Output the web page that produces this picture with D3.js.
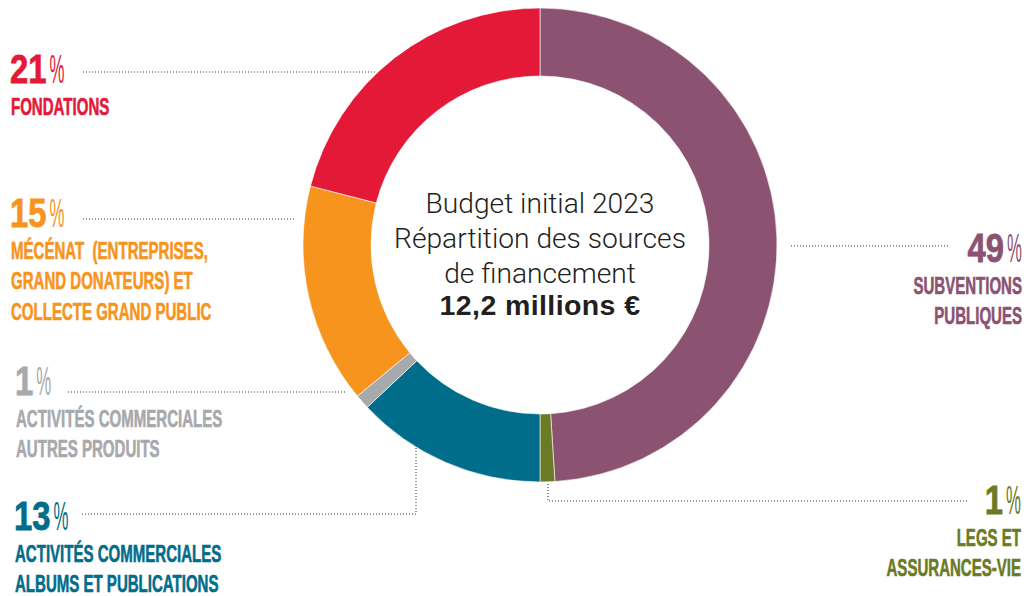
<!DOCTYPE html>
<html>
<head>
<meta charset="utf-8">
<script src="https://cdn.jsdelivr.net/npm/d3@7"></script>
<style>
  html, body { margin: 0; padding: 0; background: #fff; }
  svg { display: block; }
  text { white-space: pre; }
</style>
</head>
<body>
<svg id="chart"></svg>
<script>
// data, clockwise from 12 o'clock
const categories = [
  "Subventions publiques",
  "Legs et assurances-vie",
  "Activités commerciales albums et publications",
  "Activités commerciales autres produits",
  "Mécénat et collecte grand public",
  "Fondations"
];
const shares = [49, 1, 13, 1, 15, 21];
const labelLines = [
  ["SUBVENTIONS", "PUBLIQUES"],
  ["LEGS ET", "ASSURANCES-VIE"],
  ["ACTIVITÉS COMMERCIALES", "ALBUMS ET PUBLICATIONS"],
  ["ACTIVITÉS COMMERCIALES", "AUTRES PRODUITS"],
  ["MÉCÉNAT  (ENTREPRISES,", "GRAND DONATEURS) ET", "COLLECTE GRAND PUBLIC"],
  ["FONDATIONS"]
];
const centerLines = ["Budget initial 2023", "Répartition des sources", "de financement"];
const centerTotal = "12,2 millions €";

const colors = ["#8b5272", "#6b7a24", "#006d8a", "#a7a9ac", "#f7941d", "#e31937"];

// label anchors (layout only)
const labelPos = [
  { x: 1022, y: 262, anchor: "end" },
  { x: 1021, y: 514, anchor: "end" },
  { x: 14, y: 530, anchor: "start" },
  { x: 15, y: 395, anchor: "start" },
  { x: 10, y: 227, anchor: "start" },
  { x: 10, y: 83, anchor: "start" }
];
const leaders = [
  [[791, 246], [950, 246]],
  [[967, 501], [548, 501], [548, 484]],
  [[82, 514], [416, 514], [416, 442]],
  [[68, 392], [346, 392]],
  [[83, 219], [294, 219]],
  [[83, 72], [377, 72]]
];

const width = 1027, height = 596;
const cx = 540, cy = 245, outerR = 237, innerR = 169;

const svg = d3.select("#chart")
    .attr("width", width)
    .attr("height", height)
    .attr("viewBox", [0, 0, width, height]);

const color = d3.scaleOrdinal().domain(categories).range(colors);

const pie = d3.pie().sort(null).value(d => d.value);
const arc = d3.arc().innerRadius(innerR).outerRadius(outerR);

const slices = categories.map((c, i) => ({ key: c, value: shares[i] }));

// donut
svg.append("g")
    .attr("transform", `translate(${cx},${cy})`)
  .selectAll("path")
  .data(pie(slices))
  .join("path")
    .attr("d", arc)
    .attr("fill", d => color(d.data.key))
    .attr("stroke", "#fff")
    .attr("stroke-width", 0.6);

// dotted leader lines
const line = d3.line();
svg.append("g")
  .selectAll("path")
  .data(leaders)
  .join("path")
    .attr("d", d => line(d))
    .attr("fill", "none")
    .attr("stroke", "#3a3a3a")
    .attr("stroke-width", 1.1)
    .attr("stroke-dasharray", "1 2");

// labels
const numScale = 0.8, pctScale = 0.42, nameScale = 0.64;
const labels = svg.append("g")
  .selectAll("g")
  .data(slices)
  .join("g")
    .attr("fill", d => color(d.key))
    .attr("stroke", d => color(d.key));

labels.each(function(d, i) {
  const g = d3.select(this);
  const p = labelPos[i];

  const num = g.append("text")
      .attr("font-family", "Liberation Sans, Arial, sans-serif")
      .attr("font-weight", "bold")
      .attr("font-size", 41)
      .attr("stroke-width", 0.8)
      .text(d.value);
  const pct = g.append("text")
      .attr("font-family", "Liberation Sans, Arial, sans-serif")
      .attr("font-weight", "normal")
      .attr("font-size", 40)
      .attr("stroke-width", 0)
      .text("%");

  const numW = num.node().getComputedTextLength() * numScale;
  const pctW = pct.node().getComputedTextLength() * pctScale;
  const gap = 3;

  if (p.anchor === "start") {
    num.attr("transform", `translate(${p.x},${p.y}) scale(${numScale},1)`);
    pct.attr("transform", `translate(${p.x + numW + gap},${p.y}) scale(${pctScale},1)`);
  } else {
    pct.attr("text-anchor", "end")
       .attr("transform", `translate(${p.x},${p.y}) scale(${pctScale},1)`);
    num.attr("text-anchor", "end")
       .attr("transform", `translate(${p.x - pctW - gap},${p.y}) scale(${numScale},1)`);
  }

  labelLines[i].forEach((t, j) => {
    g.append("text")
        .attr("font-family", "Liberation Sans, Arial, sans-serif")
        .attr("font-weight", "bold")
        .attr("font-size", 23.5)
        .attr("stroke-width", 0.6)
        .attr("text-anchor", p.anchor)
        .attr("transform", `translate(${p.x + (p.anchor === "start" ? 1 : 0)},${p.y + 31.5 + j * 30.5}) scale(${nameScale},1)`)
        .text(t);
  });
});

// centre title
const title = svg.append("g")
    .attr("text-anchor", "middle")
    .attr("fill", "#231f20");

title.selectAll("text.line")
  .data(centerLines)
  .join("text")
    .attr("class", "line")
    .attr("x", cx)
    .attr("y", (d, i) => 213 + i * 35)
    .attr("font-family", "Roboto, Liberation Sans, sans-serif")
    .attr("font-weight", 300)
    .attr("font-size", 28.2)
    .text(d => d);

title.append("text")
    .attr("x", cx)
    .attr("y", 315)
    .attr("font-family", "Liberation Sans, Arial, sans-serif")
    .attr("font-weight", "bold")
    .attr("font-size", 28.5)
    .attr("letter-spacing", 0.4)
    .text(centerTotal);
</script>
</body>
</html>
